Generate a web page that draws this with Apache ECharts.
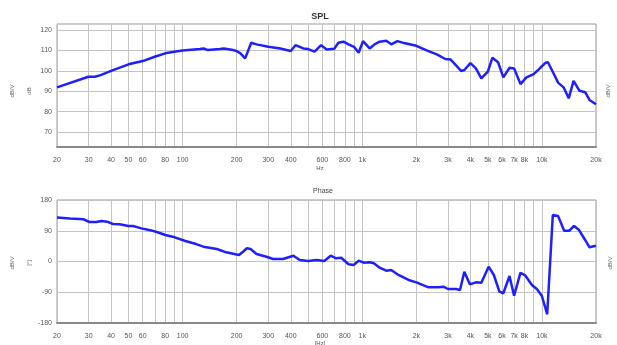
<!DOCTYPE html>
<html>
<head>
<meta charset="utf-8">
<script src="https://cdn.jsdelivr.net/npm/echarts@6/dist/echarts.min.js"></script>
<style>
  html, body { margin: 0; padding: 0; background: #fff; }
  #chart { width: 617px; height: 345px; }
</style>
</head>
<body>
<div id="chart"></div>
<script>
// SPL magnitude response: frequency [Hz] and level [dB]
const splFreq = [20, 29.9, 32.5, 35, 40, 50, 60, 70, 80, 90, 100, 125, 131, 138, 161, 170, 191, 200, 210, 223, 241, 258, 300, 350, 400, 425, 470, 500, 543, 590, 634, 700, 736, 785, 839, 900, 955, 1010, 1100, 1170, 1250, 1360, 1450, 1570, 1730, 2000, 2300, 2600, 2900, 3100, 3560, 3700, 4000, 4290, 4600, 5000, 5300, 5700, 6100, 6600, 7000, 7600, 8200, 9000, 9800, 10500, 10800, 11600, 12300, 13200, 14100, 15000, 16200, 17400, 18400, 20000];
const splDb = [91.9, 97.1, 97.1, 97.9, 100.0, 103.2, 104.8, 106.9, 108.6, 109.4, 110.0, 110.7, 111.0, 110.2, 110.7, 111.0, 110.2, 109.7, 108.6, 106.1, 113.8, 113.0, 111.8, 111.0, 109.7, 112.6, 111.0, 110.7, 109.4, 112.6, 110.5, 110.9, 113.8, 114.3, 113.0, 111.8, 108.9, 114.6, 111.0, 113.0, 114.3, 114.8, 113.0, 114.6, 113.5, 112.3, 109.9, 108.1, 105.8, 105.6, 99.9, 100.4, 103.8, 101.2, 96.3, 99.6, 106.4, 104.2, 96.8, 101.5, 101.2, 93.5, 96.8, 98.4, 101.5, 104.0, 104.2, 98.8, 94.2, 91.9, 86.5, 95.1, 90.2, 89.5, 85.7, 83.6];

// Phase response: frequency [Hz] and phase [deg]
const phaseFreq = [20, 23.6, 28, 30.3, 33, 35.5, 38, 41, 44.6, 50, 53, 59, 67, 74, 80, 90.6, 103.6, 119, 130.6, 155, 175, 206, 217, 228, 239, 258, 293, 319, 362, 414, 449, 500, 557, 615, 667, 716, 764, 839, 895, 955, 1020, 1100, 1160, 1250, 1360, 1450, 1590, 1810, 2000, 2340, 2660, 2830, 3000, 3330, 3500, 3700, 3970, 4290, 4600, 5050, 5400, 5800, 6100, 6600, 7000, 7600, 8100, 8800, 9400, 10000, 10700, 11500, 12300, 13300, 14200, 15100, 16100, 17400, 18400, 20000];
const phaseDeg = [129, 126, 124, 115.6, 115.6, 118.5, 116.5, 109.7, 108.8, 103.9, 104, 97, 91, 84, 77.6, 70.8, 60, 51, 43.4, 36.6, 26.9, 19, 28.7, 38.6, 36.6, 22, 14, 7.3, 7.3, 17, 4.4, 1.5, 4.4, 1.5, 17, 9.4, 11, -8.2, -10, 2.4, -3.5, -2.4, -5.3, -18, -27, -25, -39.5, -54, -61, -75.5, -75.5, -73.7, -80.5, -80.5, -83.4, -29.8, -66.8, -61, -62, -15.2, -39.5, -88.4, -93, -42.4, -100, -32.8, -41.5, -68.8, -81.4, -101, -154.5, 136, 133, 90, 90, 104, 92, 63, 41.5, 46];

// Frequency grid lines and labelled frequencies
const gridFreqs = [20, 30, 40, 50, 60, 70, 80, 90, 100, 200, 300, 400, 500, 600, 700, 800, 900, 1000, 2000, 3000, 4000, 5000, 6000, 7000, 8000, 9000, 10000, 20000];
const labelFreqs = [20, 30, 40, 50, 60, 80, 100, 200, 300, 400, 600, 800, 1000, 2000, 3000, 4000, 5000, 6000, 7000, 8000, 10000, 20000];
const splTicks = [70, 80, 90, 100, 110, 120];

const lg = Math.log10;
const toPairs = (fs, vs) => fs.map((f, i) => [lg(f), vs[i]]);

function freqLabel(v) {
  const f = Math.round(Math.pow(10, v));
  return f >= 1000 ? (f / 1000) + 'k' : String(f);
}

const FONT = 'Liberation Sans, Arial, sans-serif';
const labelStyle = { color: '#555', fontSize: 7, fontFamily: FONT };

function xAxisDef(gridIndex) {
  return {
    type: 'value',
    gridIndex: gridIndex,
    min: lg(20),
    max: lg(20000),
    axisLine: { show: true, onZero: false, lineStyle: { color: '#888', width: 2 } },
    axisTick: { show: false, customValues: gridFreqs.map(lg) },
    axisLabel: Object.assign({ customValues: labelFreqs.map(lg), formatter: freqLabel, margin: 10 }, labelStyle),
    splitLine: { show: true, lineStyle: { color: '#c4c4c4', width: 1 } }
  };
}

const chart = echarts.init(document.getElementById('chart'), null, { renderer: 'canvas' });

chart.setOption({
  animation: false,
  backgroundColor: '#fff',
  title: [
    { text: 'SPL', left: 315, top: 7, textAlign: 'center',
      textStyle: { fontSize: 9, fontWeight: 'bold', color: '#333', fontFamily: FONT } },
    { text: 'Phase', left: 318, top: 183, textAlign: 'center',
      textStyle: { fontSize: 7, fontWeight: 'normal', color: '#444', fontFamily: FONT } }
  ],
  grid: [
    { left: 57, right: 21, top: 24, height: 123, show: true, borderColor: '#999', borderWidth: 1 },
    { left: 57, right: 21, top: 200, height: 123, show: true, borderColor: '#999', borderWidth: 1 }
  ],
  xAxis: [xAxisDef(0), xAxisDef(1)],
  yAxis: [
    {
      type: 'value', gridIndex: 0, min: 62.6, max: 123,
      axisLine: { show: false },
      axisTick: { show: false, customValues: splTicks },
      axisLabel: Object.assign({ customValues: splTicks, margin: 5 }, labelStyle),
      splitLine: { show: true, lineStyle: { color: '#c4c4c4' } }
    },
    {
      type: 'value', gridIndex: 1, min: -180, max: 180, interval: 90,
      axisLine: { show: false },
      axisTick: { show: false },
      axisLabel: Object.assign({ margin: 5 }, labelStyle),
      splitLine: { show: true, lineStyle: { color: '#c4c4c4' } }
    }
  ],
  graphic: [
    { type: 'text', x: 320, y: 165, style: { text: 'Hz', fill: '#555', font: '6px ' + FONT, align: 'center' } },
    { type: 'text', x: 320, y: 340, style: { text: '[Hz]', fill: '#555', font: '6px ' + FONT, align: 'center' } },
    { type: 'text', x: 12, y: 91, rotation: Math.PI / 2, style: { text: 'dB/V', fill: '#666', font: '6px ' + FONT, align: 'center', verticalAlign: 'middle' } },
    { type: 'text', x: 29, y: 91, rotation: Math.PI / 2, style: { text: 'dB', fill: '#666', font: '6px ' + FONT, align: 'center', verticalAlign: 'middle' } },
    { type: 'text', x: 608, y: 91, rotation: Math.PI / 2, style: { text: 'dB/V', fill: '#666', font: '6px ' + FONT, align: 'center', verticalAlign: 'middle' } },
    { type: 'text', x: 12, y: 263, rotation: Math.PI / 2, style: { text: 'dB/V', fill: '#666', font: '6px ' + FONT, align: 'center', verticalAlign: 'middle' } },
    { type: 'text', x: 29, y: 263, rotation: Math.PI / 2, style: { text: '[°]', fill: '#666', font: '6px ' + FONT, align: 'center', verticalAlign: 'middle' } },
    { type: 'text', x: 610, y: 263, rotation: Math.PI / 2, style: { text: 'dB/V', fill: '#666', font: '6px ' + FONT, align: 'center', verticalAlign: 'middle' } }
  ],
  series: [
    {
      name: 'SPL', type: 'line', xAxisIndex: 0, yAxisIndex: 0,
      data: toPairs(splFreq, splDb), showSymbol: false, smooth: false,
      lineStyle: { color: '#1f1fff', width: 2.5 }
    },
    {
      name: 'Phase', type: 'line', xAxisIndex: 1, yAxisIndex: 1,
      data: toPairs(phaseFreq, phaseDeg), showSymbol: false, smooth: false,
      lineStyle: { color: '#1f1fff', width: 2.5 }
    }
  ]
});
</script>
</body>
</html>
